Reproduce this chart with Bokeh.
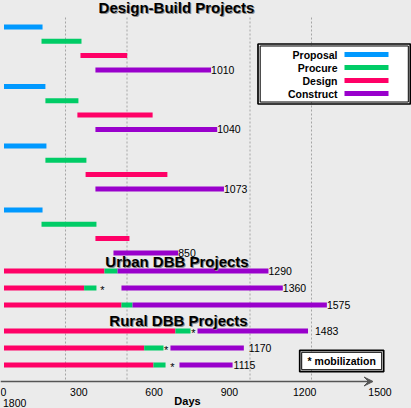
from bokeh.plotting import figure
from bokeh.models import Range1d, ColumnDataSource, Arrow, VeeHead, GlobalInlineStyleSheet
from bokeh.core.properties import value
from bokeh.embed import file_html
from bokeh.resources import INLINE

# ---------------- data ----------------
phases = ["Proposal", "Procure", "Design", "Construct"]
phase_colors = ["#0099ff", "#00cc66", "#ff0066", "#9900cc"]

# Design-Build projects (days)
db_totals = [1010, 1040, 1073, 850]
db_proposal_start = [0, 0, 0, 0]
db_proposal_end = [188, 202, 207, 188]
db_procure_start = [183, 202, 202, 183]
db_procure_end = [378, 363, 402, 451]
db_design_start = [373, 358, 398, 446]
db_design_end = [601, 725, 797, 612]
db_construct_start = [446, 446, 446, 534]

# Urban DBB projects (days)
urban_totals = [1290, 1360, 1575]
urban_design_end = [490, 391, 573]
urban_procure_end = [554, 451, 627]
urban_construct_start = [554, 573, 627]
urban_mobilization = [None, 480, None]

# Rural DBB projects (days)
rural_totals = [1483, 1170, 1115]
rural_design_end = [836, 684, 729]
rural_procure_end = [910, 778, 788]
rural_construct_start = [944, 812, 856]
rural_mobilization = [924, 791, 822]

x_tick_values = [0, 300, 600, 900, 1200, 1500]
x_tick_extra = "1800"
grid_days = [300, 600, 1200, 1500]
axis_end_days = 1800

# ---------------- layout constants ----------------
W, H = 411, 408
BG = "#ebebeb"
DAYS_PER_PX = 300 / 61.5
ZERO_PX = 3.5
FONT = value("Liberation Sans")
DB_BLOCK_TOP = [26.5, 86.0, 145.5, 209.5]
DB_ROW_STEP = 14.3

p = figure(width=W, height=H, output_backend="svg", toolbar_location=None,
           x_range=Range1d(-ZERO_PX * DAYS_PER_PX, (W - ZERO_PX) * DAYS_PER_PX),
           y_range=Range1d(H, 0), min_border=0, outline_line_color=None,
           background_fill_color=BG, border_fill_color=BG)
p.extra_x_ranges = {"px": Range1d(0, W)}
p.axis.visible = False
p.grid.visible = False
p.stylesheets = [GlobalInlineStyleSheet(css="html,body{margin:0;padding:0;background:%s;overflow:hidden;}" % BG)]

# row positions
def db_row(proj, k):
    return DB_BLOCK_TOP[proj] + k * DB_ROW_STEP

def urban_row(i):
    return 270.5 + i * 17.0

def rural_row(i):
    return 330.5 + i * 17.0

ys, lefts, rights, cols = [], [], [], []
def add(y, l, r, c):
    ys.append(y); lefts.append(l); rights.append(r); cols.append(c)

for j in range(4):
    add(db_row(j, 0), db_proposal_start[j], db_proposal_end[j], phase_colors[0])
    add(db_row(j, 1), db_procure_start[j], db_procure_end[j], phase_colors[1])
    add(db_row(j, 2), db_design_start[j], db_design_end[j], phase_colors[2])
    add(db_row(j, 3), db_construct_start[j], db_totals[j], phase_colors[3])
for i in range(3):
    y = urban_row(i)
    add(y, 0, urban_design_end[i], phase_colors[2])
    add(y, urban_design_end[i], urban_procure_end[i], phase_colors[1])
    add(y, urban_construct_start[i], urban_totals[i], phase_colors[3])
for i in range(3):
    y = rural_row(i)
    add(y, 0, rural_design_end[i], phase_colors[2])
    add(y, rural_design_end[i], rural_procure_end[i], phase_colors[1])
    add(y, rural_construct_start[i], rural_totals[i], phase_colors[3])

# grid lines
p.segment(x0=grid_days, x1=grid_days, y0=[17] * len(grid_days), y1=[380] * len(grid_days),
          line_color="#a5a5a5", line_width=1, line_dash="2 2")

# bars
p.hbar(y="y", left="l", right="r", height=5, fill_color="c", line_color=None,
       source=ColumnDataSource(dict(y=ys, l=lefts, r=rights, c=cols)))

# total labels
lab_x = db_totals + urban_totals + rural_totals
lab_y = [db_row(j, 3) for j in range(4)] + [urban_row(i) for i in range(3)] + [rural_row(i) for i in range(3)]
lab_off = [0] * 7 + [7, 5, 1]
p.text(x=lab_x, y=lab_y, text=[str(v) for v in lab_x], x_offset=lab_off,
       text_font=FONT, text_font_size="10.5px", text_color="#000000",
       text_align="left", text_baseline="middle")

# mobilization asterisks
mx, my = [], []
for i, m in enumerate(urban_mobilization):
    if m is not None:
        mx.append(m); my.append(urban_row(i) + 1.5)
for i, m in enumerate(rural_mobilization):
    if m is not None:
        mx.append(m); my.append(rural_row(i) + 1.5)
p.text(x=mx, y=my, text=["*"] * len(mx), text_font=FONT, text_font_size="11px",
       text_align="center", text_baseline="middle", text_color="#000000")

# section titles with shadow
titles = ["Design-Build Projects", "Urban DBB Projects", "Rural DBB Projects"]
title_y = [6.8, 260.5, 320.0]
title_x = [176, 176.5, 178]
p.text(x=title_x, y=title_y, text=titles, x_offset=1, y_offset=1, x_range_name="px",
       text_font=FONT, text_font_style="bold", text_font_size="15px",
       text_color="#8a8a8a", text_align="center", text_baseline="middle")
p.text(x=title_x, y=title_y, text=titles, x_range_name="px",
       text_font=FONT, text_font_style="bold", text_font_size="15px",
       text_color="#000000", text_align="center", text_baseline="middle")

# x axis with arrow
p.add_layout(Arrow(x_start=-ZERO_PX * DAYS_PER_PX, y_start=381, x_end=axis_end_days, y_end=381,
                   line_color="#555555", line_width=1.5,
                   end=VeeHead(size=9, fill_color="#555555", line_color="#555555")))

# tick labels (spread as in original)
tick_px = [3 + v / 300 * 75.3 for v in x_tick_values]
p.text(x=tick_px, y=[391] * len(tick_px), text=[str(v) for v in x_tick_values], x_range_name="px",
       text_font=FONT, text_font_size="10.5px", text_color="#000000",
       text_align="center", text_baseline="middle")
p.text(x=[2.5], y=[402.3], text=[x_tick_extra], x_range_name="px",
       text_font=FONT, text_font_size="10.5px", text_color="#000000",
       text_align="left", text_baseline="middle")
p.text(x=[187], y=[400.3], text=["Days"], x_range_name="px",
       text_font=FONT, text_font_style="bold", text_font_size="11px", text_color="#000000",
       text_align="center", text_baseline="middle")

# legend box
p.quad(left=[257.5], right=[409.8], top=[43.5], bottom=[103.5], x_range_name="px",
       fill_color=None, line_color="#000000", line_width=1.7)
p.quad(left=[259.7], right=[407.8], top=[45.5], bottom=[101.5], x_range_name="px",
       fill_color="#ffffff", line_color="#000000", line_width=1)
leg_y = [54 + k * 13 for k in range(4)]
p.text(x=[337] * 4, y=leg_y, text=phases, x_range_name="px",
       text_font=FONT, text_font_style="bold", text_font_size="10.5px", text_color="#000000",
       text_align="right", text_baseline="middle")
p.hbar(y=leg_y, left=[344] * 4, right=[388] * 4, height=5, fill_color=phase_colors,
       line_color=None, x_range_name="px")

# mobilization note box
p.quad(left=[299.2], right=[383.2], top=[349.8], bottom=[371.2], x_range_name="px",
       fill_color=None, line_color="#000000", line_width=1.7)
p.quad(left=[301.2], right=[381.2], top=[351.8], bottom=[369.2], x_range_name="px",
       fill_color="#ffffff", line_color="#000000", line_width=1)
p.text(x=[341.2], y=[360.5], text=["* mobilization"], x_range_name="px",
       text_font=FONT, text_font_style="bold", text_font_size="10.5px", text_color="#000000",
       text_align="center", text_baseline="middle")

open("out.html", "w").write(file_html(p, INLINE))
